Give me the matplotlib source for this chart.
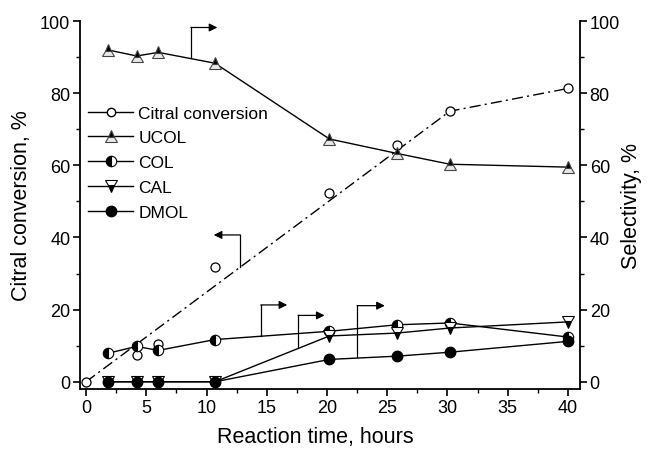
import matplotlib
matplotlib.use("Agg")
import matplotlib.pyplot as plt
from matplotlib.lines import Line2D
from matplotlib.ticker import MultipleLocator

plt.rcParams['font.family'] = ['Liberation Sans', 'DejaVu Sans']

# ---- data ----
t_conv = [0, 4.2, 6.0, 10.7, 20.2, 25.8, 30.2, 40.0]
conversion = [0, 7.5, 10.5, 31.7, 52.3, 65.5, 75.0, 81.3]
fit_t = [0, 30.2, 40.0]
fit_conv = [0, 75.0, 81.3]

t_sel = [1.8, 4.2, 6.0, 10.7, 20.2, 25.8, 30.2, 40.0]
ucol = [92.0, 90.3, 91.3, 88.3, 67.3, 63.3, 60.3, 59.5]
col = [7.9, 9.8, 8.7, 11.7, 14.0, 15.8, 16.3, 12.4]
cal = [0, 0, 0, 0, 12.7, 13.5, 14.9, 16.6]
dmol = [0, 0, 0, 0, 6.2, 7.1, 8.2, 11.2]

legend_labels = ["Citral conversion", "UCOL", "COL", "CAL", "DMOL"]
xticks = [0, 5, 10, 15, 20, 25, 30, 35, 40]
yticks = [0, 20, 40, 60, 80, 100]

# bent arrows: (x of vertical, y start on curve, y corner, x of arrow tip)
arrows = [
    (12.8, 31.9, 40.7, 10.6),   # conversion -> left axis
    (8.7, 89.7, 98.2, 10.9),    # UCOL -> right axis
    (14.5, 12.7, 21.3, 16.7),   # COL
    (17.6, 9.3, 18.4, 19.8),    # CAL
    (22.5, 6.8, 21.1, 24.8),    # DMOL
]

fig = plt.figure(figsize=(6.51, 4.52), dpi=100)
ax = fig.add_axes([80/651, 1 - 390/452, 500/651, 368/452])
ax2 = ax.twinx()

lw = 1.0
ax.plot(fit_t, fit_conv, color='black', lw=lw, linestyle=(0, (8, 3, 1.5, 3)))
ax.plot(t_conv, conversion, linestyle='none', marker='o', ms=6.5,
        mfc='white', mec='black', mew=0.9)

ax2.plot(t_sel, ucol, color='black', lw=lw, marker='^', ms=8,
         fillstyle='top', mfc='black', mfcalt='#e8e8e8', mec='#444444', mew=0.8)
ax2.plot(t_sel, col, color='black', lw=lw, marker='o', ms=7.5,
         fillstyle='left', mfc='black', mfcalt='white', mec='black', mew=0.8)
ax2.plot(t_sel, cal, color='black', lw=lw, marker='v', ms=8,
         fillstyle='bottom', mfc='black', mfcalt='white', mec='black', mew=0.8)
ax2.plot(t_sel, dmol, color='black', lw=lw, marker='o', ms=7.5,
         mfc='black', mec='black')

for xv, y0, y1, xt in arrows:
    ax2.plot([xv, xv], [y0, y1], color='black', lw=0.9)
    ax2.annotate('', xy=(xt, y1), xytext=(xv, y1),
                 arrowprops=dict(arrowstyle='-|>', color='black', lw=0.9,
                                 mutation_scale=12, shrinkA=0, shrinkB=0))

for a in (ax, ax2):
    a.set_xlim(-0.5, 41)
    a.set_ylim(-2, 100)
    a.spines['top'].set_visible(False)
    for s in a.spines.values():
        s.set_linewidth(1.3)

ax.spines['right'].set_visible(False)
ax2.spines['left'].set_visible(False)
ax2.spines['bottom'].set_visible(False)

ax.set_xticks(xticks)
ax.xaxis.set_minor_locator(MultipleLocator(2.5))
ax.set_yticks(yticks)
ax.yaxis.set_minor_locator(MultipleLocator(10))
ax2.set_yticks(yticks)
ax2.yaxis.set_minor_locator(MultipleLocator(10))

for a in (ax, ax2):
    a.tick_params(which='major', direction='out', length=5, width=1.2, labelsize=13, pad=2)
    a.tick_params(which='minor', direction='out', length=3, width=1.0)

ax.set_xlabel("Reaction time, hours", fontsize=15.5)
ax.xaxis.set_label_coords(0.47, -0.1)
ax.xaxis.label.set_va('top')
ax.set_ylabel("Citral conversion, %", fontsize=15.5, labelpad=6)
ax2.set_ylabel("Selectivity, %", fontsize=15.5, labelpad=1)

handles = [
    Line2D([], [], color='black', lw=lw, marker='o', ms=6, mfc='white', mec='black'),
    Line2D([], [], color='black', lw=lw, marker='^', ms=8, fillstyle='top',
           mfc='black', mfcalt='#e8e8e8', mec='#444444', mew=0.8),
    Line2D([], [], color='black', lw=lw, marker='o', ms=7.5, fillstyle='left',
           mfc='black', mfcalt='white', mec='black', mew=0.8),
    Line2D([], [], color='black', lw=lw, marker='v', ms=8, fillstyle='bottom',
           mfc='black', mfcalt='white', mec='black', mew=0.8),
    Line2D([], [], color='black', lw=lw, marker='o', ms=7.5, mfc='black', mec='black'),
]
ax2.legend(handles, legend_labels, loc='upper left', bbox_to_anchor=(0.016, 0.77),
           frameon=False, fontsize=12.5, handlelength=2.6, handletextpad=0.3,
           labelspacing=0.55, borderpad=0, borderaxespad=0)

fig.savefig("out.png", dpi=100)
